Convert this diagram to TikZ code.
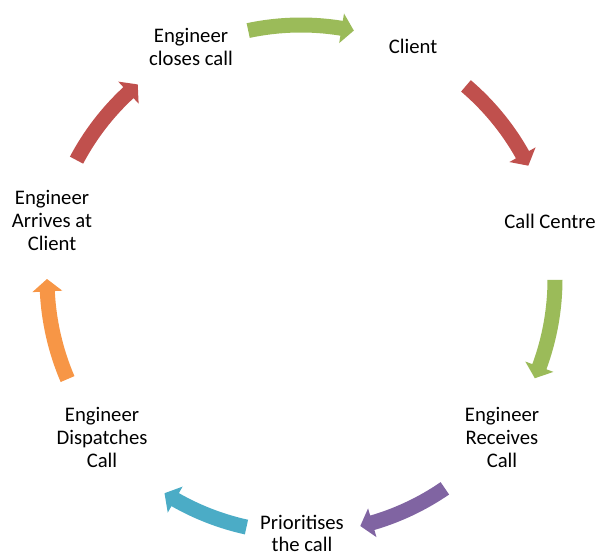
\documentclass[tikz,border=0pt]{standalone}
\usepackage{fontspec}
\setmainfont{Carlito}
\definecolor{cgreen}{HTML}{9BBB59}
\definecolor{cred}{HTML}{C0504D}
\definecolor{cpurple}{HTML}{8064A2}
\definecolor{cblue}{HTML}{4BACC6}
\definecolor{corange}{HTML}{F79646}
\begin{document}
\begin{tikzpicture}[x=1pt,y=-1pt,stage/.style={align=center,inner sep=0pt,anchor=base,font=\fontsize{20.7}{22.7}\selectfont}]
                \useasboundingbox (0,0) rectangle (599,551);
                \node[stage] at (413, 54) (client) {Client};
                \node[stage] at (550, 228) (centre) {Call Centre};
                \node[stage] at (502, 467) (receives) {Engineer\\Receives\\Call};
                \node[stage] at (302, 551.7) (prioritises) {Prioritises\\the call};
                \node[stage] at (102, 467) (dispatches) {Engineer\\Dispatches\\Call};
                \node[stage] at (52, 250) (arrives) {Engineer\\Arrives at\\Client};
                \node[stage] at (191, 65) (closes) {Engineer\\closes call};

                % curved block arrows round the cycle
                \begin{scope}[shift={(301,279)}]
                    \foreach \s/\e/\col in {-12/12/cgreen, 40.5/63.5/cred, 90.2/113/cgreen, 145.5/166.5/cpurple,
                                            192.4/212.5/cblue, 246.8/270/corange, 297.9/320/cred}{
                        \pgfmathsetmacro{\a}{\s-90}
                        \pgfmathsetmacro{\b}{\e-90}
                        \pgfmathsetmacro{\m}{\b-2.8}
                        \fill[\col] (\a:261.5) arc[start angle=\a, end angle=\m, radius=261.5]
                            -- (\m:269) -- (\b:254) -- (\m:239) -- (\m:246.5)
                            arc[start angle=\m, end angle=\a, radius=246.5] -- cycle;
                    }
                \end{scope}
            \end{tikzpicture}
\end{document}
